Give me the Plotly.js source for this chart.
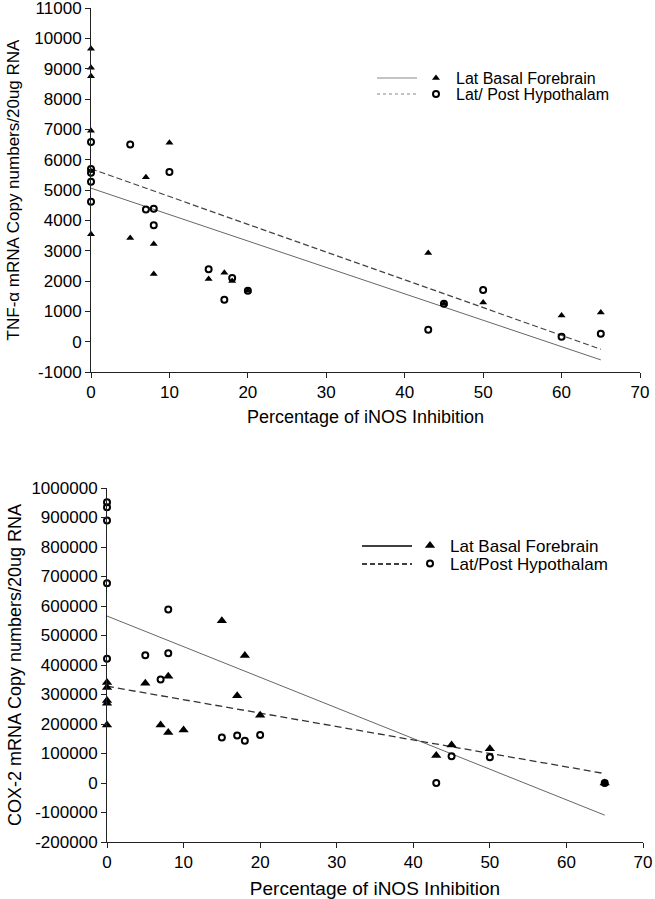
<!DOCTYPE html>
<html>
<head>
<meta charset="utf-8">
<script src="https://cdn.plot.ly/plotly-3.0.1.min.js"></script>
<style>
  body { margin: 0; background: #fff; }
  #chart { width: 655px; height: 899px; }
</style>
</head>
<body>
<div id="chart"></div>
<script>
// --- data ---
// top panel: TNF-alpha
const tnfLbfX = [0, 0, 0, 0, 0, 5, 7, 8, 8, 10, 15, 17, 18, 20, 43, 45, 50, 60, 65];
const tnfLbfY = [9660, 9030, 8750, 6950, 3540, 3420, 5420, 3220, 2230, 6560, 2070, 2270, 2000, 1680, 2920, 1250, 1290, 860, 960];
const tnfLphX = [0, 0, 0, 0, 0, 5, 7, 8, 8, 10, 15, 17, 18, 20, 43, 45, 50, 60, 65];
const tnfLphY = [6580, 5690, 5570, 5270, 4610, 6500, 4360, 4380, 3840, 5590, 2390, 1380, 2100, 1680, 390, 1250, 1700, 160, 260];
const tnfFitX = [0, 65];
const tnfLbfFit = [5060, -600];
const tnfLphFit = [5700, -250];

// bottom panel: COX-2
const coxLbfX = [0, 0, 0, 0, 0, 5, 7, 8, 8, 10, 15, 17, 18, 20, 43, 45, 50, 65];
const coxLbfY = [341000, 324000, 280000, 270000, 197000, 338000, 197000, 362000, 171000, 180000, 550000, 296000, 432000, 230000, 93000, 129000, 116000, 0];
const coxLphX = [0, 0, 0, 0, 0, 5, 7, 8, 8, 15, 17, 18, 20, 43, 45, 50, 65];
const coxLphY = [952000, 935000, 890000, 677000, 421000, 433000, 351000, 588000, 440000, 154000, 161000, 143000, 163000, 0, 91000, 87000, 0];
const coxFitX = [0, 65];
const coxLbfFit = [566000, -109000];
const coxLphFit = [328000, 32000];

const xTicks = [0, 10, 20, 30, 40, 50, 60, 70];
const tnfTicks = [-1000, 0, 1000, 2000, 3000, 4000, 5000, 6000, 7000, 8000, 9000, 10000, 11000];
const coxTicks = [-200000, -100000, 0, 100000, 200000, 300000, 400000, 500000, 600000, 700000, 800000, 900000, 1000000];

const names = ['Lat Basal Forebrain', 'Lat/ Post Hypothalam', 'Lat/Post Hypothalam'];

// pixel helpers (page is 655 x 899, margins 0)
const W = 655, H = 899;
const fx = p => p / W;
const fy = p => 1 - p / H;

const FONT = 'Liberation Sans, Arial, sans-serif';

const triTop = { symbol: 'triangle-up', size: 7, color: '#000' };
const cirTop = { symbol: 'circle-open', size: 6, color: '#000', line: { width: 2, color: '#000' } };
const triBot = { symbol: 'triangle-up', size: 9, color: '#000' };
const cirBot = { symbol: 'circle-open', size: 6, color: '#000', line: { width: 2, color: '#000' } };

const traces = [
  // fits
  { x: tnfFitX, y: tnfLbfFit, mode: 'lines', line: { color: '#666', width: 1 }, showlegend: false, xaxis: 'x', yaxis: 'y', hoverinfo: 'skip' },
  { x: tnfFitX, y: tnfLphFit, mode: 'lines', line: { color: '#444', width: 1.2, dash: '6px,3px' }, showlegend: false, xaxis: 'x', yaxis: 'y', hoverinfo: 'skip' },
  { x: coxFitX, y: coxLbfFit, mode: 'lines', line: { color: '#666', width: 1 }, showlegend: false, xaxis: 'x2', yaxis: 'y2', hoverinfo: 'skip' },
  { x: coxFitX, y: coxLphFit, mode: 'lines', line: { color: '#333', width: 1.3, dash: '7px,4px' }, showlegend: false, xaxis: 'x2', yaxis: 'y2', hoverinfo: 'skip' },
  // points
  { x: tnfLbfX, y: tnfLbfY, mode: 'markers', name: names[0], marker: triTop, cliponaxis: false, xaxis: 'x', yaxis: 'y', legend: 'legend' },
  { x: tnfLphX, y: tnfLphY, mode: 'markers', name: names[1], marker: cirTop, cliponaxis: false, xaxis: 'x', yaxis: 'y', legend: 'legend2' },
  { x: coxLbfX, y: coxLbfY, mode: 'markers', name: names[0], marker: triBot, cliponaxis: false, xaxis: 'x2', yaxis: 'y2', legend: 'legend3' },
  { x: coxLphX, y: coxLphY, mode: 'markers', name: names[2], marker: cirBot, cliponaxis: false, xaxis: 'x2', yaxis: 'y2', legend: 'legend4' }
];

function axisBase(fontSize) {
  return {
    showline: true, linecolor: '#222', linewidth: 1,
    ticks: 'outside', ticklen: 5, tickcolor: '#222', tickwidth: 1,
    showgrid: false, zeroline: false, automargin: false,
    ticklabeloverflow: 'allow',
    tickfont: { family: FONT, size: fontSize, color: '#000' }
  };
}

// legend marker sits 20px right of the legend's left edge
function legendAt(xp, yp, size) {
  return {
    x: fx(xp - 20), y: fy(yp), xanchor: 'left', yanchor: 'middle',
    bgcolor: 'rgba(0,0,0,0)', borderwidth: 0,
    font: { family: FONT, size: size, color: '#000' }
  };
}

const layout = {
  width: W, height: H,
  margin: { l: 0, r: 0, t: 0, b: 0 },
  paper_bgcolor: '#fff', plot_bgcolor: '#fff',
  font: { family: FONT, color: '#000' },
  showlegend: true,
  xaxis: Object.assign(axisBase(17), {
    domain: [fx(91), fx(640)], anchor: 'y', range: [0, 70],
    tickvals: xTicks, ticktext: xTicks.map(String),
    title: { text: 'Percentage of iNOS Inhibition', font: { family: FONT, size: 18 }, standoff: 8 }
  }),
  yaxis: Object.assign(axisBase(17), {
    domain: [fy(372), fy(8)], anchor: 'x', range: [-1000, 11000],
    tickvals: tnfTicks, ticktext: tnfTicks.map(v => String(v)),
    title: { text: 'TNF-α mRNA Copy numbers/20ug RNA', font: { family: FONT, size: 17 }, standoff: 10 }
  }),
  xaxis2: Object.assign(axisBase(17), {
    domain: [fx(107), fx(643)], anchor: 'y2', range: [0, 70],
    tickvals: xTicks, ticktext: xTicks.map(String),
    title: { text: 'Percentage of iNOS Inhibition', font: { family: FONT, size: 19 }, standoff: 12 }
  }),
  yaxis2: Object.assign(axisBase(17), {
    domain: [fy(842), fy(488)], anchor: 'x2', range: [-200000, 1000000],
    tickvals: coxTicks, ticktext: coxTicks.map(v => String(v)),
    title: { text: 'COX-2 mRNA Copy numbers/20ug RNA', font: { family: FONT, size: 18 }, standoff: 5 }
  }),
  legend: legendAt(436, 78, 16),
  legend2: legendAt(436, 94, 16),
  legend3: legendAt(430, 546, 17),
  legend4: legendAt(430, 564, 17),
  shapes: [
    { type: 'line', xref: 'paper', yref: 'paper', x0: fx(377), x1: fx(417), y0: fy(78), y1: fy(78), line: { color: '#888', width: 1 } },
    { type: 'line', xref: 'paper', yref: 'paper', x0: fx(377), x1: fx(417), y0: fy(94), y1: fy(94), line: { color: '#888', width: 1, dash: 'dot' } },
    { type: 'line', xref: 'paper', yref: 'paper', x0: fx(362), x1: fx(412), y0: fy(546), y1: fy(546), line: { color: '#000', width: 1.4 } },
    { type: 'line', xref: 'paper', yref: 'paper', x0: fx(362), x1: fx(412), y0: fy(564), y1: fy(564), line: { color: '#000', width: 1.4, dash: '5px,3px' } }
  ]
};

Plotly.newPlot('chart', traces, layout, { staticPlot: true, displayModeBar: false });
</script>
</body>
</html>
